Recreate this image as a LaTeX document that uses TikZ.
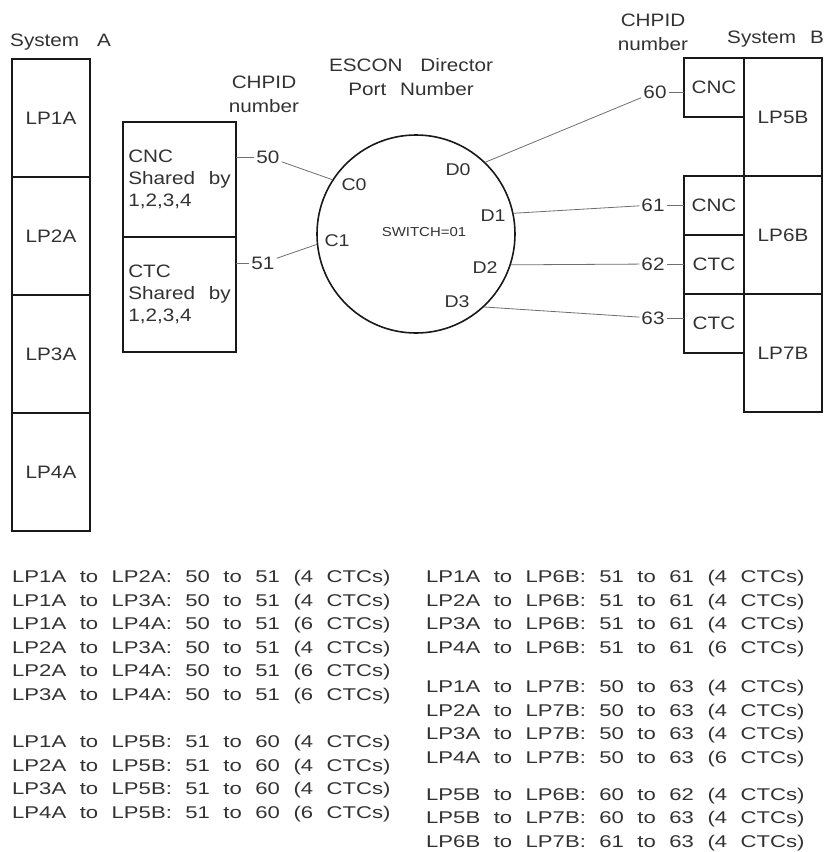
\documentclass[tikz,border=0pt]{standalone}
\usepackage{fontspec}
\newfontfamily\plotfont[FakeStretch=1.15, WordSpace=2.4]{Liberation Sans}
\newfontfamily\listfont[FakeStretch=1.3, WordSpace=2.2]{Liberation Sans}
\usetikzlibrary{positioning}
\definecolor{plotink}{RGB}{50,50,50}
\definecolor{boxedge}{RGB}{25,25,25}
\definecolor{wireline}{RGB}{110,110,110}
\tikzset{
    lpar/.style       = {draw = boxedge, line width = 1.5pt, outer sep = 0pt, minimum width = 78pt, minimum height = 118pt, text = plotink, font = \plotfont\fontsize{18}{22}\selectfont},
    chpa/.style       = {draw = boxedge, line width = 1.5pt, outer sep = 0pt, minimum width = 113pt, minimum height = 115pt, align = left, text = plotink, font = \plotfont\fontsize{18}{22}\selectfont},
    chpb/.style       = {draw = boxedge, line width = 1.5pt, outer sep = 0pt, minimum width = 60pt, minimum height = 59pt, text = plotink, font = \plotfont\fontsize{18}{22}\selectfont},
    switch/.style     = {draw = boxedge, line width = 1.6pt, circle, minimum size = 198pt, inner sep = 0pt},
    title/.style      = {text = plotink, align = center, inner sep = 0pt, font = \plotfont\fontsize{18}{24}\selectfont},
    port label/.style = {text = plotink, inner sep = 0pt, font = \plotfont\fontsize{17}{20}\selectfont},
    chpid/.style      = {text = plotink, inner sep = 2pt, font = \plotfont\fontsize{18}{20}\selectfont},
    wire/.style       = {draw = wireline, line width = 0.8pt},
    pairs/.style      = {text = plotink, align = left, inner sep = 0pt, anchor = base west, font = \listfont\fontsize{17}{23.5}\selectfont}
}

\begin{document}
\begin{tikzpicture}[x=1pt, y=-1pt]
    \useasboundingbox (0,0) rectangle (832,852);

    % system A
    \node[title, anchor=west] (sysa) at (10,42) {System\hspace{4pt} A};
    \node[lpar] (lp1a) at (51,118) {LP1A};
    \node[lpar, below=0pt of lp1a] (lp2a) {LP2A};
    \node[lpar, below=0pt of lp2a] (lp3a) {LP3A};
    \node[lpar, below=0pt of lp3a] (lp4a) {LP4A};

    \node[title] (chpida) at (264,94) {CHPID\\number};
    \node[chpa] (cnca) at (179.5,179.5) {CNC\\Shared by\\1,2,3,4};
    \node[chpa, below=0pt of cnca] (ctca) {CTC\\Shared by\\1,2,3,4};

    % director
    \node[title] (escon) at (411,77) {ESCON\hspace{4pt} Director\\Port Number};
    \node[switch] (sw) at (416,234) {};
    \node[port label, font=\plotfont\fontsize{13}{15}\selectfont] (swid) at (424,232) {SWITCH=01};
    \node[port label] (pc0) at (354,185) {C0};
    \node[port label] (pc1) at (337,241) {C1};
    \node[port label] (pd0) at (458,170) {D0};
    \node[port label] (pd1) at (493,216) {D1};
    \node[port label] (pd2) at (485,268) {D2};
    \node[port label] (pd3) at (457,302) {D3};

    % system B
    \node[title] (chpidb) at (653,32) {CHPID\\number};
    \node[title, anchor=west] (sysb) at (727,39) {System B};
    \node[lpar] (lp5b) at (783,117) {LP5B};
    \node[lpar, below=0pt of lp5b] (lp6b) {LP6B};
    \node[lpar, below=0pt of lp6b] (lp7b) {LP7B};
    \node[chpb] (cnc5) at (714,87.5) {CNC};
    \node[chpb] (cnc6) at (714,205.5) {CNC};
    \node[chpb, below=0pt of cnc6] (ctc6) {CTC};
    \node[chpb, below=0pt of ctc6] (ctc7) {CTC};

    % chpid numbers and links
    \node[chpid] (n50) at (268,157) {50};
    \node[chpid] (n51) at (263,263) {51};
    \node[chpid] (n60) at (655,92) {60};
    \node[chpid] (n61) at (653,205) {61};
    \node[chpid] (n62) at (653,264) {62};
    \node[chpid] (n63) at (653,318) {63};

    \draw[wire] (n50) -- (n50 -| cnca.east);
    \draw[wire] (n51) -- (n51 -| ctca.east);
    \draw[wire] (sw.147) -- (n50);
    \draw[wire] (sw.186) -- (n51);
    \draw[wire] (sw.46) -- (n60);
    \draw[wire] (sw.12) -- (n61);
    \draw[wire] (sw.-18) -- (n62);
    \draw[wire] (sw.-47) -- (n63);
    \draw[wire] (n60) -- (n60 -| cnc5.west);
    \draw[wire] (n61) -- (n61 -| cnc6.west);
    \draw[wire] (n62) -- (n62 -| ctc6.west);
    \draw[wire] (n63) -- (n63 -| ctc7.west);

    % ctc pairs (base = last line)
    \node[pairs] (pairsa) at (12,700) {LP1A to LP2A: 50 to 51 (4 CTCs)\\LP1A to LP3A: 50 to 51 (4 CTCs)\\LP1A to LP4A: 50 to 51 (6 CTCs)\\LP2A to LP3A: 50 to 51 (4 CTCs)\\LP2A to LP4A: 50 to 51 (6 CTCs)\\LP3A to LP4A: 50 to 51 (6 CTCs)};
    \node[pairs] (pairsb) at (12,818) {LP1A to LP5B: 51 to 60 (4 CTCs)\\LP2A to LP5B: 51 to 60 (4 CTCs)\\LP3A to LP5B: 51 to 60 (4 CTCs)\\LP4A to LP5B: 51 to 60 (6 CTCs)};
    \node[pairs] (pairsc) at (426,653) {LP1A to LP6B: 51 to 61 (4 CTCs)\\LP2A to LP6B: 51 to 61 (4 CTCs)\\LP3A to LP6B: 51 to 61 (4 CTCs)\\LP4A to LP6B: 51 to 61 (6 CTCs)};
    \node[pairs] (pairsd) at (426,763) {LP1A to LP7B: 50 to 63 (4 CTCs)\\LP2A to LP7B: 50 to 63 (4 CTCs)\\LP3A to LP7B: 50 to 63 (4 CTCs)\\LP4A to LP7B: 50 to 63 (6 CTCs)};
    \node[pairs] (pairse) at (426,847) {LP5B to LP6B: 60 to 62 (4 CTCs)\\LP5B to LP7B: 60 to 63 (4 CTCs)\\LP6B to LP7B: 61 to 63 (4 CTCs)};
\end{tikzpicture}
\end{document}
